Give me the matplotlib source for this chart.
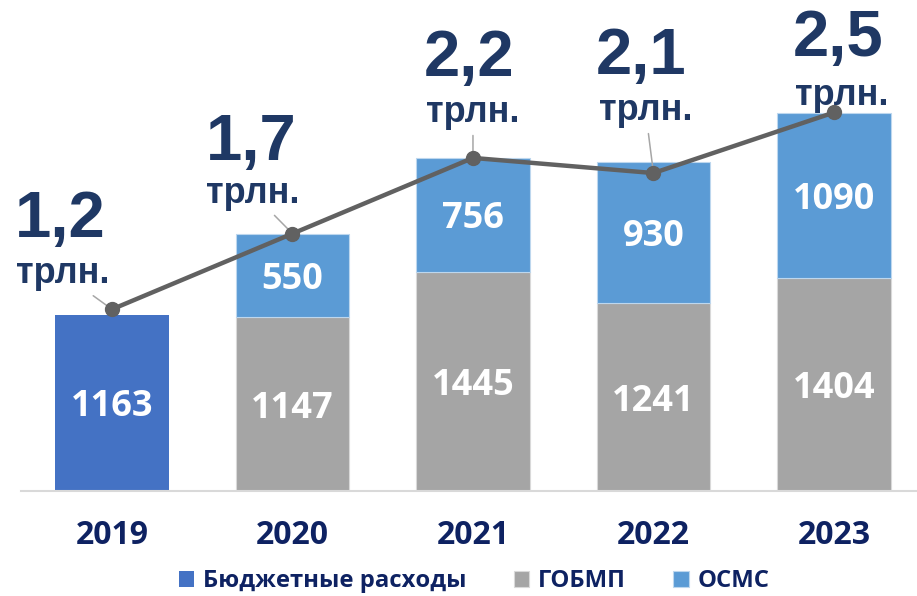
import matplotlib
matplotlib.use("Agg")
import matplotlib.pyplot as plt
import numpy as np

# data
years = ["2019", "2020", "2021", "2022", "2023"]
budget = [1163, 0, 0, 0, 0]          # Бюджетные расходы (only 2019)
gobmp = [0, 1147, 1445, 1241, 1404]  # ГОБМП
osms = [0, 550, 756, 930, 1090]      # ОСМС
total_trln = [1.2, 1.7, 2.2, 2.1, 2.5]

c_budget = "#4472C4"
c_gobmp = "#A5A5A5"
c_osms = "#5B9BD5"
navy = "#1F3864"
navy_dark = "#0E2262"

# label offsets from the line points, in pixels: (dx, dy) for "трлн." and for the number
unit_off = [(-49, 26), (-40, 31), (0, 36), (-8, 53), (8, 7)]
num_off = [(-52, 72), (-41, 74), (-4, 82), (-12, 99), (4, 56)]
leader = [True, True, True, True, False]

fig = plt.figure(figsize=(9.17, 5.96), dpi=100)
ax = fig.add_axes([21 / 917, 105 / 596, 896 / 917, 491 / 596])

x = np.arange(len(years))
w = 0.63
line_vals = np.array(total_trln) * 1000

ax.bar(x[:1], budget[:1], w, color=c_budget, label="Бюджетные расходы", zorder=2)
ax.bar(x[1:], gobmp[1:], w, color=c_gobmp, edgecolor="#D9D9D9", linewidth=0.8,
       label="ГОБМП", zorder=2)
ax.bar(x[1:], osms[1:], w, bottom=gobmp[1:], color=c_osms, edgecolor="#BDD7EE",
       linewidth=0.8, label="ОСМС", zorder=2)

vfont = dict(family="Open Sans", weight="bold", fontsize=26, color="white",
             ha="center", va="center_baseline", zorder=3)
ax.text(x[0], budget[0] / 2, str(budget[0]), **vfont)
for i in x[1:]:
    ax.text(i, gobmp[i] / 2, str(gobmp[i]), **vfont)
    ax.text(i, gobmp[i] + osms[i] / 2, str(osms[i]), **vfont)

ax.plot(x, line_vals, color="#616161", lw=3.2, marker="o", markersize=10, zorder=5)

for i in x:
    ux, uy = unit_off[i]
    nx, ny = num_off[i]
    ap = None
    if leader[i]:
        ap = dict(arrowstyle="-", color="#A6A6A6", lw=1.1, shrinkA=2, shrinkB=0)
    ax.annotate("трлн.", xy=(i, line_vals[i]), xytext=(ux, uy),
                textcoords="offset pixels", ha="center", va="baseline",
                family="Liberation Sans", weight="bold", fontsize=26, color=navy,
                arrowprops=ap, zorder=4)
    lbl = f"{total_trln[i]:.1f}".replace(".", ",")
    ax.annotate(lbl, xy=(i, line_vals[i]), xytext=(nx, ny),
                textcoords="offset pixels", ha="center", va="baseline",
                family="Liberation Sans", weight="bold", fontsize=47, color=navy,
                zorder=4)

ax.set_xlim(-0.504, 4.46)
ax.set_ylim(0, 3243)
ax.set_xticks(x)
ax.set_xticklabels(years, family="Open Sans", weight="bold", fontsize=23, color=navy_dark)
ax.tick_params(axis="x", length=0, pad=20)
ax.set_yticks([])
for s in ["top", "right", "left"]:
    ax.spines[s].set_visible(False)
ax.spines["bottom"].set_color("#D9D9D9")
ax.spines["bottom"].set_linewidth(1.5)
ax.patch.set_alpha(0)

fig.legend(loc="center", bbox_to_anchor=(474 / 917, 1 - 581 / 596), ncol=3,
           frameon=False, handlelength=0.65, handleheight=0.65, handletextpad=0.35,
           columnspacing=2.0,
           prop=dict(family="Open Sans", weight="bold", size=17.2))
for t in fig.legends[0].get_texts():
    t.set_color(navy_dark)

fig.savefig("out.png", dpi=100)
